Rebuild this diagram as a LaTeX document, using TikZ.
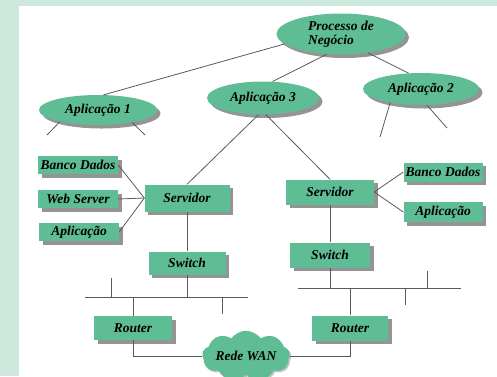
\documentclass[tikz,border=0pt]{standalone}
\usepackage{fontspec}
\setmainfont{Liberation Serif}
\usetikzlibrary{shapes.geometric,shapes.symbols,shadows}
\definecolor{mint}{RGB}{204,232,220}
\definecolor{boxgreen}{RGB}{95,189,150}
\definecolor{wire}{RGB}{90,90,90}
\newcommand{\lbl}{\fontsize{13.5}{14.5}\selectfont\bfseries\itshape}
\tikzset{
    shade/.style={drop shadow={shadow xshift=3.5pt,shadow yshift=-3.5pt,fill=black!42,opacity=1}},
    app/.style={ellipse,fill=boxgreen,inner sep=0pt,shade,font=\lbl},
    box/.style={rectangle,fill=boxgreen,inner sep=0pt,minimum width=80pt,minimum height=18pt,shade,font=\lbl},
    wan/.style={cloud,cloud puffs=9,cloud puff arc=110,aspect=2.3,fill=boxgreen,inner sep=0pt,
        minimum width=82pt,minimum height=38pt,drop shadow={shadow xshift=1.5pt,shadow yshift=-1.5pt,fill=black!25,opacity=1},font=\lbl},
    link/.style={draw=wire,line width=0.8pt}
}
\begin{document}
\begin{tikzpicture}[x=1pt,y=-1pt]
    \useasboundingbox (0,0) rectangle (497,376);
    \fill[mint] (0,0) rectangle (497,376);
    \fill[white] (19,6) rectangle (497,376);
    %% business process and applications
    \node[app,minimum width=129pt,minimum height=41pt,align=left] (proc) at (341,34) {Processo de\\Negócio};
    \node[app,minimum width=118pt,minimum height=30pt] (app1) at (98,110) {Aplicação 1};
    \node[app,minimum width=112pt,minimum height=33pt] (app3) at (263,98) {Aplicação 3};
    \node[app,minimum width=116pt,minimum height=32pt] (app2) at (421,89) {Aplicação 2};
    \draw[link] (proc.190) -- (app1.70);
    \draw[link] (proc.235) -- (app3.60);
    \draw[link] (proc.-35) -- (app2.128);
    %% loose ends below the applications
    \coordinate (a1l) at (47,135);
    \coordinate (a1r) at (145,135);
    \coordinate (a2l) at (380,137);
    \coordinate (a2r) at (447,128);
    \draw[link] (app1.197) -- (a1l);
    \draw[link] (app1.-20) -- (a1r);
    \draw[link] (app2.204) -- (a2l);
    \draw[link] (app2.-70) -- (a2r);
    %% left site
    \node[box] (db1) at (78,165) {Banco Dados};
    \node[box] (web1) at (78,199) {Web Server};
    \node[box] (apl1) at (79,232) {Aplicação};
    \node[box,minimum width=85pt,minimum height=27pt] (srv1) at (187,198) {Servidor};
    \node[box,minimum width=77pt,minimum height=23pt] (sw1) at (187,263) {Switch};
    \node[box,minimum width=78pt,minimum height=24pt] (rt1) at (133,328) {Router};
    \draw[link] (app3.255) -- (srv1.north);
    \foreach \n in {db1,web1,apl1} \draw[link] (\n.east) -- (srv1.west);
    \draw[link] (srv1) -- (sw1);
    \coordinate (bus1a) at (85,297);
    \coordinate (bus1b) at (248,297);
    \draw[link] (bus1a) -- (bus1b);
    \draw[link] (sw1.south) -- (sw1.south |- bus1a);
    \draw[link] (111,278) -- (111,297);
    \draw[link] (222,297) -- (222,314);
    \draw[link] (rt1.north) -- (rt1.north |- bus1a);
    %% right site
    \node[box,minimum width=88pt,minimum height=25pt] (srv2) at (330,192) {Servidor};
    \node[box,minimum width=79pt,minimum height=19pt] (db2) at (443,172) {Banco Dados};
    \node[box,minimum width=79pt,minimum height=20pt] (apl2) at (443,212) {Aplicação};
    \node[box,minimum width=80pt,minimum height=25pt] (sw2) at (330,255) {Switch};
    \node[box,minimum width=76pt,minimum height=25pt] (rt2) at (350,328) {Router};
    \draw[link] (app3.-80) -- (srv2.north);
    \draw[link] (srv2.east) -- (db2.west);
    \draw[link] (srv2.east) -- (apl2.west);
    \draw[link] (srv2) -- (sw2);
    \coordinate (bus2a) at (298,288);
    \coordinate (bus2b) at (461,288);
    \draw[link] (bus2a) -- (bus2b);
    \draw[link] (sw2.south) -- (sw2.south |- bus2a);
    \draw[link] (427,271) -- (427,288);
    \draw[link] (405,288) -- (405,305);
    \draw[link] (rt2.north) -- (rt2.north |- bus2a);
    %% wide area network
    \node[wan] (net) at (246,356) {Rede WAN};
    \draw[link] (rt1.south) |- (net);
    \draw[link] (rt2.south) |- (net);
\end{tikzpicture}
\end{document}
